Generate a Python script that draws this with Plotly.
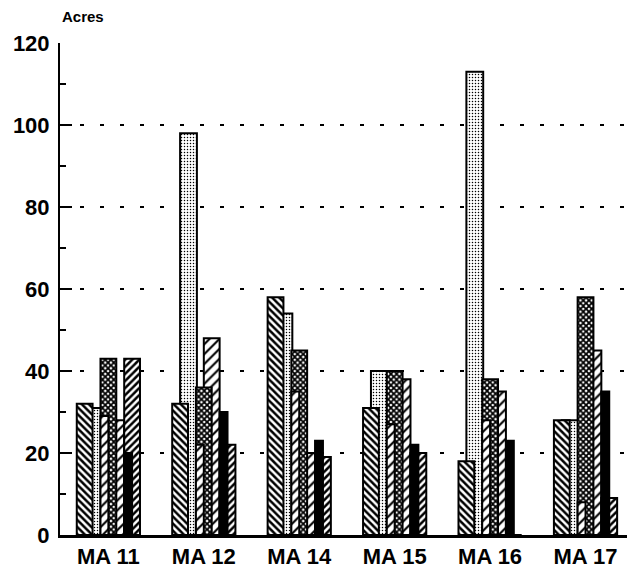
import plotly.graph_objects as go

categories = ["MA 11", "MA 12", "MA 14", "MA 15", "MA 16", "MA 17"]

# series values (acres)
s1_back_hatch = [32, 32, 58, 31, 18, 28]
s2_stipple = [31, 98, 54, 40, 113, 28]
s3_crosshatch = [43, 36, 45, 40, 38, 58]
s3b_light_hatch = [29, 22, 35, 27, 28, 8]
s4_light_hatch = [28, 48, 20, 38, 35, 45]
s5_solid = [20, 30, 23, 22, 23, 35]
s6_dark_hatch = [43, 22, 19, 20, 0, 9]

y_ticks = [0, 20, 40, 60, 80, 100, 120]

PX = 96.6  # pixels per category


def bar(values, start_px, width_px, shape, size, solidity, fg="black", bg="white", solid=False):
    marker = dict(color="black" if solid else bg,
                  line=dict(color="black", width=2))
    if not solid:
        marker["pattern"] = dict(shape=shape, fgcolor=fg, bgcolor=bg,
                                 size=size, solidity=solidity, fillmode="replace")
    return go.Bar(x=categories, y=values,
                  offset=(start_px - 32) / PX, width=width_px / PX,
                  marker=marker, showlegend=False, hoverinfo="skip")


fig = go.Figure()
# back to front drawing order
fig.add_trace(bar(s2_stipple, 8, 17, ".", 3, 0.2))
fig.add_trace(bar(s1_back_hatch, 0, 16, "\\", 5, 0.5))
fig.add_trace(bar(s4_light_hatch, 32, 16, "/", 7, 0.3))
fig.add_trace(bar(s3_crosshatch, 24, 16, "x", 4, 0.7))
fig.add_trace(bar(s3b_light_hatch, 24, 8, "/", 7, 0.3))
fig.add_trace(bar(s6_dark_hatch, 48, 16, "/", 5, 0.5))
fig.add_trace(bar(s5_solid, 48, 8, "", 5, 0.5, solid=True))

font_family = "Liberation Sans, Arial, sans-serif"

fig.update_layout(
    width=627, height=566,
    margin=dict(l=45, r=5, t=35, b=38),
    barmode="overlay",
    plot_bgcolor="white", paper_bgcolor="white",
    font=dict(family=font_family, color="black"),
    xaxis=dict(
        type="category", range=[-0.507, 5.466],
        showline=True, linecolor="black", linewidth=3,
        ticks="", showgrid=False,
        tickfont=dict(size=22, family=font_family, weight="bold"),
    ),
    yaxis=dict(
        range=[0, 120], tickvals=y_ticks,
        showline=True, linecolor="black", linewidth=2,
        ticks="inside", ticklen=12, tickwidth=2, tickcolor="black",
        minor=dict(ticks="inside", ticklen=6, tickwidth=1.5, dtick=10,
                   tickcolor="black", showgrid=False),
        showgrid=True, gridcolor="black", gridwidth=2, griddash="4px,16px",
        zeroline=False,
        tickfont=dict(size=22, family=font_family, weight="bold"),
        ticklabelstandoff=4,
    ),
    annotations=[dict(text="<b>Acres</b>", xref="paper", yref="paper",
                      x=0, y=1, xanchor="left", yanchor="bottom", yshift=16,
                      showarrow=False, font=dict(size=15, family=font_family))],
)

fig.write_html("out.html")
